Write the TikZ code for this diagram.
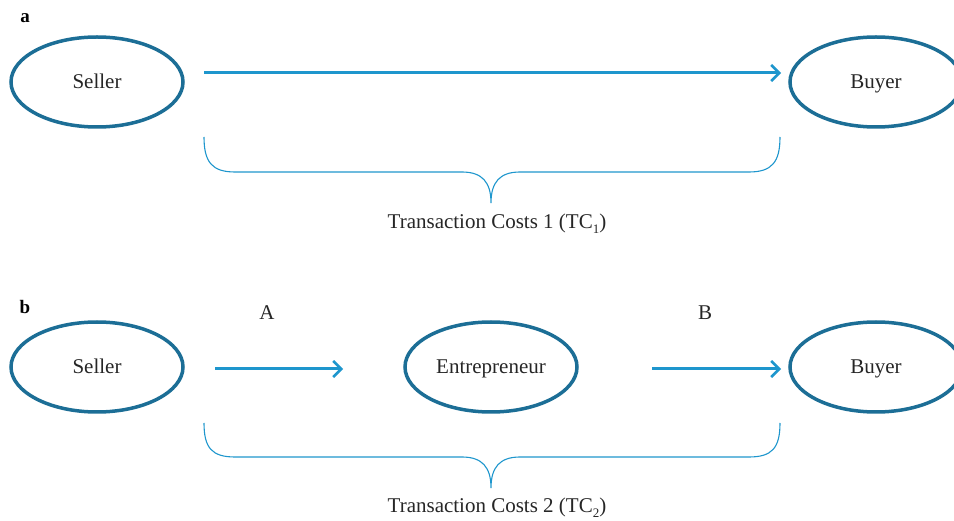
\documentclass[tikz,border=0pt]{standalone}
\usepackage{fontspec}
\setmainfont{Liberation Serif}
\usetikzlibrary{shapes.geometric,arrows.meta}
\definecolor{ellcol}{RGB}{28,110,150}
\definecolor{arrcol}{RGB}{30,150,205}
\newcommand{\tcsub}[1]{\raisebox{-5pt}{\fontsize{13}{14}\selectfont #1}}
\tikzset{
  party/.style={ellipse, draw=ellcol, line width=3.5pt, minimum width=172pt, minimum height=90pt, inner sep=0pt, text height=14pt, text depth=0pt, font=\fontsize{21}{24}\selectfont, text=black!85},
  flow/.style={draw=arrcol, line width=3pt, -{Straight Barb[length=8pt,width=16pt,line width=2.5pt]}},
  bracecurve/.style={draw=arrcol, line width=1.1pt},
  lbl/.style={font=\fontsize{21}{24}\selectfont, text=black!85},
  panel/.style={font=\bfseries\fontsize{19}{22}\selectfont}
}
\begin{document}
\begin{tikzpicture}[x=1pt,y=-1pt]
\useasboundingbox (0,0) rectangle (954,521);
% panel a
\node[panel] (pa) at (25,18) {a};
\node[party] (sellerA) at (97,82) {Seller};
\node[party] (buyerA) at (876,82) {Buyer};
\coordinate (a1) at (204,73);
\coordinate (a2) at (781,73);
\draw[flow] (a1) -- (a2);
\coordinate (braceAL) at (204,137);
\coordinate (braceAR) at (780,137);
\coordinate (braceAT) at (491,203);
\draw[bracecurve] (braceAL) .. controls (204,162) and (212,172) .. (235,172) -- (462,172)
  .. controls (482,172) and (491,182) .. (braceAT)
  .. controls (491,182) and (500,172) .. (520,172) -- (749,172)
  .. controls (772,172) and (780,162) .. (braceAR);
\node[lbl] (tc1) at (497,224) {Transaction Costs 1 (TC\tcsub{1})};
% panel b
\node[panel] (pb) at (25,307) {b};
\node[party] (sellerB) at (97,367) {Seller};
\node[party] (entre) at (491,367) {Entrepreneur};
\node[party] (buyerB) at (876,367) {Buyer};
\node[lbl] (lA) at (267,313) {A};
\node[lbl] (lB) at (705,313) {B};
\coordinate (b1) at (215,369);
\coordinate (b2) at (343,369);
\coordinate (b3) at (652,369);
\coordinate (b4) at (781,369);
\draw[flow] (b1) -- (b2);
\draw[flow] (b3) -- (b4);
\coordinate (braceBL) at (204,423);
\coordinate (braceBR) at (780,423);
\coordinate (braceBT) at (491,488);
\draw[bracecurve] (braceBL) .. controls (204,448) and (212,457) .. (235,457) -- (462,457)
  .. controls (482,457) and (491,467) .. (braceBT)
  .. controls (491,467) and (500,457) .. (520,457) -- (749,457)
  .. controls (772,457) and (780,448) .. (braceBR);
\node[lbl] (tc2) at (497,508) {Transaction Costs 2 (TC\tcsub{2})};
\end{tikzpicture}
\end{document}
